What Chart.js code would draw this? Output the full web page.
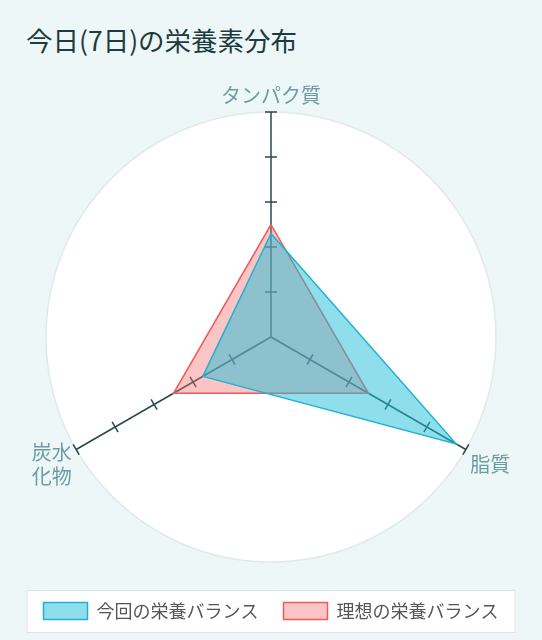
<!DOCTYPE html>
<html lang="ja">
<head>
<meta charset="utf-8">
<script src="https://cdn.jsdelivr.net/npm/chart.js@4.4.1/dist/chart.umd.min.js"></script>
<style>
  html, body { margin: 0; padding: 0; background: #eef7f8; }
  body { width: 542px; height: 640px; overflow: hidden; font-family: "Noto Sans CJK JP", "Noto Sans", sans-serif; }
  .title { height: 69px; box-sizing: border-box; padding: 24px 0 0 26px; font-size: 26.5px; line-height: 32px; color: #1d3b40; }
  .chart-box { position: relative; width: 542px; height: 571px; }
</style>
</head>
<body>
<div class="title">今日(7日)の栄養素分布</div>
<div class="chart-box"><canvas id="radar"></canvas></div>
<script>
// データ
const nutrientLabels = ['タンパク質', '脂質', ['炭水', '化物']];
const currentBalance = [46, 95, 35];
const idealBalance = [50, 50, 50];
const seriesNames = ['今回の栄養バランス', '理想の栄養バランス'];
const tickValues = [20, 40, 60, 80, 100];

const AXIS_COLOR = '#28484e';
const FONT = '"Noto Sans CJK JP", "Noto Sans", sans-serif';

// 軸上の目盛り線
const axisTickPlugin = {
    id: 'axisTicks',
    beforeDatasetsDraw(chart) {
        const scale = chart.scales.r;
        const ctx = chart.ctx;
        ctx.save();
        ctx.strokeStyle = AXIS_COLOR;
        ctx.lineWidth = 1.5;
        nutrientLabels.forEach((_, i) => {
            tickValues.forEach(v => {
                const p = scale.getPointPosition(i, scale.getDistanceFromCenterForValue(v));
                const nx = -Math.sin(p.angle) * 6;
                const ny = Math.cos(p.angle) * 6;
                ctx.beginPath();
                ctx.moveTo(p.x - nx, p.y - ny);
                ctx.lineTo(p.x + nx, p.y + ny);
                ctx.stroke();
            });
        });
        ctx.restore();
    }
};

// 複数行ラベルを軸の先端に縦中央揃え
const labelCenterPlugin = {
    id: 'labelCenter',
    afterLayout(chart) {
        const items = chart.scales.r._pointLabelItems || [];
        items.forEach((item, i) => {
            if (!Array.isArray(nutrientLabels[i])) return;
            const shift = (item.bottom - item.top) / nutrientLabels[i].length * (nutrientLabels[i].length - 1) / 2;
            item.y -= shift;
            item.top -= shift;
            item.bottom -= shift;
        });
    }
};

// 凡例の枠
const legendFramePlugin = {
    id: 'legendFrame',
    beforeDraw(chart) {
        const boxes = chart.legend && chart.legend.legendHitBoxes;
        if (!boxes || !boxes.length) return;
        const first = boxes[0];
        const last = boxes[boxes.length - 1];
        const left = first.left - 17;
        const right = last.left + last.width + 17;
        const top = first.top - 12;
        const bottom = first.top + first.height + 13;
        const ctx = chart.ctx;
        ctx.save();
        ctx.fillStyle = '#ffffff';
        ctx.strokeStyle = '#dde4e5';
        ctx.lineWidth = 1;
        ctx.fillRect(left, top, right - left, bottom - top);
        ctx.strokeRect(left + 0.5, top + 0.5, right - left - 1, bottom - top - 1);
        ctx.restore();
    }
};

new Chart(document.getElementById('radar'), {
    type: 'radar',
    data: {
        labels: nutrientLabels,
        datasets: [{
            label: seriesNames[0],
            data: currentBalance,
            borderColor: '#1fb2cf',
            backgroundColor: 'rgba(32, 190, 215, 0.5)',
            borderWidth: 1.5,
            pointRadius: 0,
            pointHoverRadius: 0
        }, {
            label: seriesNames[1],
            data: idealBalance,
            borderColor: '#ee5b5b',
            backgroundColor: 'rgba(245, 110, 110, 0.4)',
            borderWidth: 1.5,
            pointRadius: 0,
            pointHoverRadius: 0
        }]
    },
    options: {
        responsive: true,
        maintainAspectRatio: false,
        animation: false,
        layout: { padding: { top: 0, bottom: 10, left: 0, right: 0 } },
        elements: { line: { tension: 0 } },
        scales: {
            r: {
                min: 0,
                max: 100,
                backgroundColor: '#ffffff',
                ticks: { display: false, stepSize: 20 },
                grid: {
                    circular: true,
                    lineWidth: 1.5,
                    color: ctx => ctx.index === tickValues.length ? '#e2e9ea' : 'rgba(0,0,0,0)'
                },
                angleLines: { color: AXIS_COLOR, lineWidth: 1.5 },
                pointLabels: {
                    color: '#6c9ca3',
                    padding: 5,
                    font: { family: FONT, size: 20 }
                }
            }
        },
        plugins: {
            legend: {
                position: 'bottom',
                labels: {
                    color: '#555555',
                    boxWidth: 44,
                    boxHeight: 17,
                    padding: 25,
                    font: { family: FONT, size: 18 }
                }
            },
            tooltip: { enabled: false }
        }
    },
    plugins: [legendFramePlugin, axisTickPlugin, labelCenterPlugin]
});
</script>
</body>
</html>
